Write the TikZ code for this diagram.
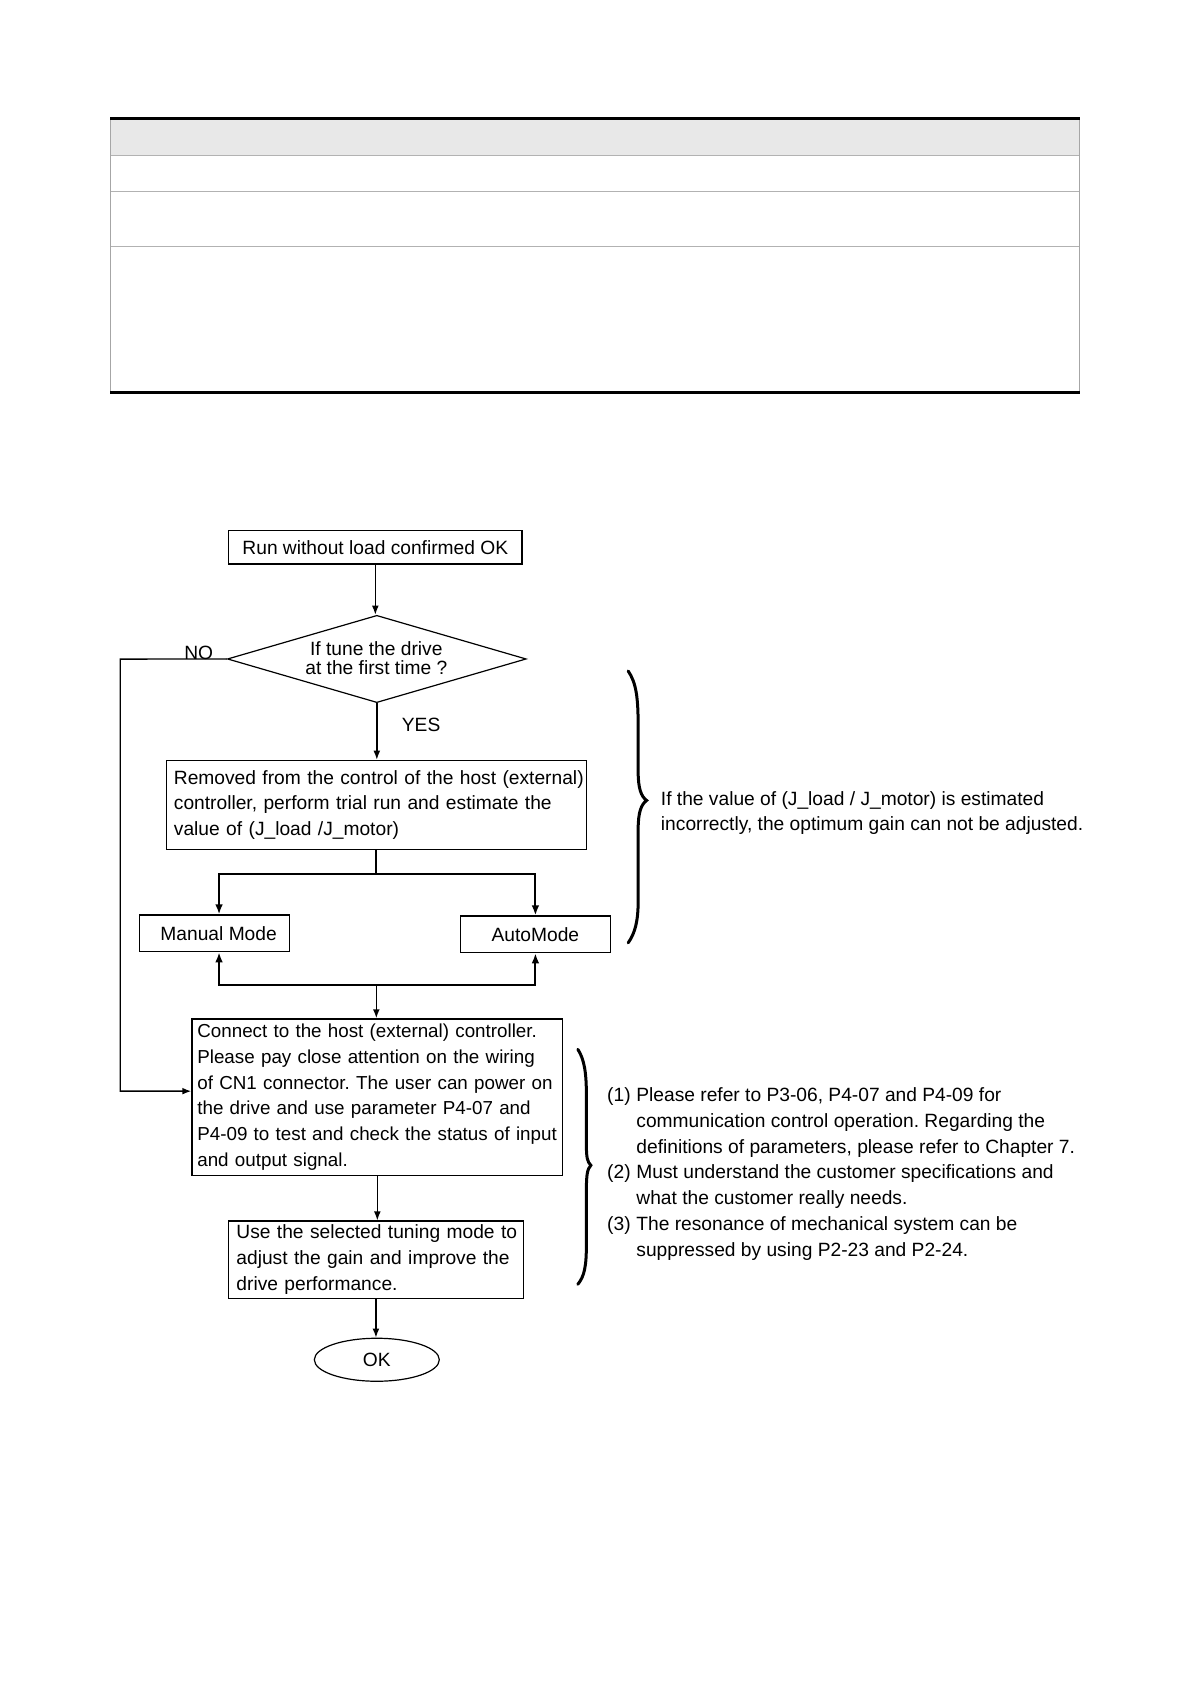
\documentclass[tikz,border=0pt]{standalone}
\usepackage{fontspec}
\setmainfont{Liberation Sans}
\usetikzlibrary{shapes.geometric,arrows.meta}
\newcommand{\oneline}[1]{\mbox{#1}}
\begin{document}
\begin{tikzpicture}[x=0.4978pt,y=-0.4978pt,
  font=\fontsize{9.6}{12.95}\selectfont\frenchspacing,
  box/.style={draw, line width=0.6pt, inner ysep=0pt, align=left},
  arr/.style={-{Latex[length=4.5pt,width=3.4pt]}, line width=0.7pt},
  brarr/.style={-{Latex[length=5pt,width=3.8pt]}, line width=1pt},
  brace/.style={line width=1.5pt, line cap=round},
  tline/.style={draw=gray!60, line width=0.6pt}]
\useasboundingbox (0,0) rectangle (1195.3,1691.5);
% ---- empty table at top ----
\fill[gray!18] (111,120.7) rectangle (1084,156);
\draw[tline] (111,156) -- (1084,156);
\draw[tline] (111,192.3) -- (1084,192.3);
\draw[tline] (111,247.3) -- (1084,247.3);
\draw[draw=gray!70, line width=0.5pt] (111,119.3) -- (111,394.2);
\draw[draw=gray!70, line width=0.5pt] (1084,119.3) -- (1084,394.2);
\draw[line width=1.4pt] (110.5,119.3) -- (1084.5,119.3);
\draw[line width=1.5pt] (110.5,394.2) -- (1084.5,394.2);
% ---- flowchart nodes ----
\node[box, align=center, inner xsep=0pt, minimum width=146.7pt, minimum height=16.7pt] (start) at (377,549.7) {Run without load confirmed OK};
\node[draw, diamond, line width=0.6pt, minimum width=149.4pt, minimum height=43.65pt, inner sep=0pt] (dec) at (378.5,661.9) {};
\node[align=center, inner sep=0pt, font=\fontsize{9.6}{9.7}\selectfont] (dectext) at (378,661.3) {If tune the drive\\at the first time ?};
\node[anchor=base, inner sep=0pt] (no) at (199.6,662) {NO};
\node[inner sep=0pt] (yes) at (423,728) {YES};
\node[box, text width=202.4pt, inner xsep=3.75pt, minimum height=44.7pt] (est) at (378,808.6) {\oneline{Removed from the control of the host (external)}\\\oneline{controller, perform trial run and estimate the}\\\oneline{value of (J\_load /J\_motor)}};
\node[box, align=center, inner xsep=0pt, minimum width=75pt, minimum height=18.3pt] (man) at (215.2,937.5) {\hspace*{4.4pt}Manual Mode};
\node[box, align=center, inner xsep=0pt, minimum width=75pt, minimum height=18.3pt] (auto) at (537.8,938.5) {AutoMode};
\node[box, text width=180pt, inner xsep=2.7pt, minimum height=78.2pt, font=\fontsize{9.4}{12.95}\selectfont\frenchspacing] (conn) at (379,1102) {\oneline{Connect to the host (external) controller.}\\\oneline{Please pay close attention on the wiring}\\\oneline{of CN1 connector. The user can power on}\\\oneline{the drive and use parameter P4-07 and}\\\oneline{P4-09 to test and check the status of input}\\\oneline{and output signal.}};
\node[box, text width=139.5pt, inner xsep=4.15pt, minimum height=38.85pt] (tune) at (377.6,1265.5) {\oneline{Use the selected tuning mode to}\\\oneline{adjust the gain and improve the}\\\oneline{drive performance.}};
\node[draw, ellipse, line width=0.6pt, minimum width=62.5pt, minimum height=21.5pt, inner sep=0pt] (ok) at (378.5,1365.8) {OK};
% ---- coordinates ----
\coordinate (s1) at (378,878.1);
\coordinate (s2) at (378,989.3);
\coordinate (c1) at (120.8,662);
\coordinate (c2) at (120.8,1096);
% ---- connectors ----
\draw[arr] (start.south) -- (start.south |- dec.north);
\draw[arr] (dec.south) -- (dec.south |- est.north);
\draw[line width=1pt] (est.south) -- (s1);
\draw[brarr] (s1) -| ([xshift=2.4pt]man.north);
\draw[brarr] (s1) -| (auto.north);
\draw[brarr] (s2) -| ([xshift=2.4pt]man.south);
\draw[brarr] (s2) -| (auto.south);
\draw[arr] (s2) -- (s2 |- conn.north);
\draw[arr] (conn.south) -- (conn.south |- tune.north);
\draw[arr] (tune.south) -- (tune.south |- ok.north);
\draw[arr] (dec.west) -- (c1) -- (c2) -- (conn.west |- c2);
% ---- braces ----
\draw[brace] (631,674) .. controls (639,686) and (641,700) .. (641,730) -- (641,775) .. controls (641,792) and (644,800) .. (649.5,804) .. controls (644,808) and (641,816) .. (641,833) -- (641,905) .. controls (641,925) and (638,937) .. (631,947);
\draw[brace] (580.4,1054) .. controls (587,1064) and (589,1078) .. (589,1100) -- (589,1150) .. controls (589,1163) and (590,1167) .. (593.5,1170.5) .. controls (590,1174) and (589,1180) .. (589,1195) -- (589,1250) .. controls (589,1272) and (587,1282) .. (580.4,1290);
% ---- notes ----
\node[anchor=west, inner sep=0pt, align=left] (note1) at (663.5,816.6) {If the value of (J\_load / J\_motor) is estimated\\incorrectly, the optimum gain can not be adjusted.};
\node[anchor=west, inner sep=0pt, align=left] (note2) at (609.5,1179.2) {\makebox[14.6pt][l]{(1)}Please refer to P3-06, P4-07 and P4-09 for\\\hspace*{14.6pt}communication control operation. Regarding the\\\hspace*{14.6pt}definitions of parameters, please refer to Chapter 7.\\\makebox[14.6pt][l]{(2)}Must understand the customer specifications and\\\hspace*{14.6pt}what the customer really needs.\\\makebox[14.6pt][l]{(3)}The resonance of mechanical system can be\\\hspace*{14.6pt}suppressed by using P2-23 and P2-24.};
\end{tikzpicture}
\end{document}
